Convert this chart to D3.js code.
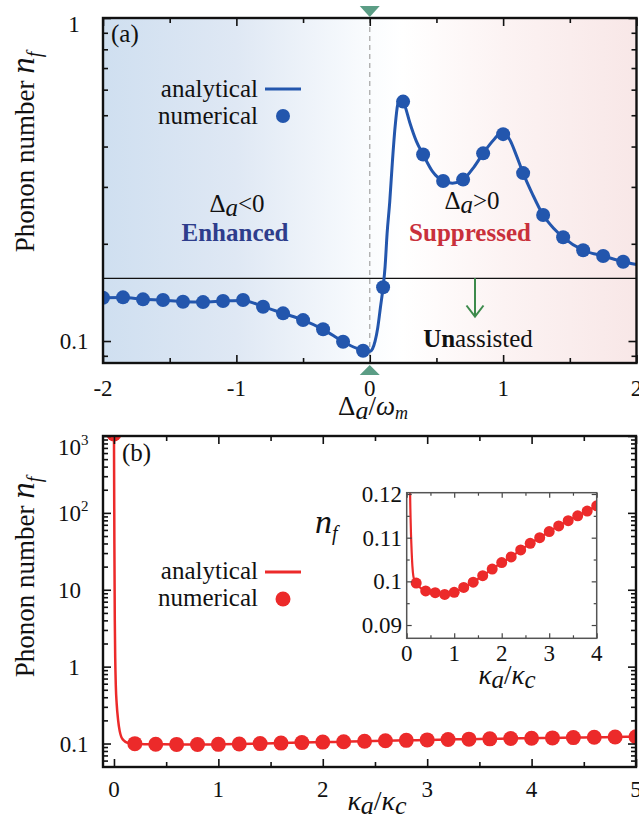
<!DOCTYPE html>
<html><head><meta charset="utf-8">
<script src="https://cdn.jsdelivr.net/npm/d3@7"></script>
<style>#c text, #c tspan { font-family: 'Liberation Serif', 'Times New Roman', Times, serif !important; }</style>
</head><body style="margin:0;background:#fff"><svg id="c" width="639" height="821"></svg>
<script>
// ---------- data, panel (a) ----------
const detuning = [-2,-1.85,-1.7,-1.55,-1.4,-1.25,-1.1,-0.95,-0.8,-0.65,-0.5,-0.35,-0.2,-0.05,0.1,0.25,0.4,0.55,0.7,0.85,1.0,1.15,1.3,1.45,1.6,1.75,1.9];
const nfNumericalA = [0.1362,0.1365,0.1346,0.1339,0.1323,0.1320,0.1330,0.1339,0.1277,0.1218,0.1161,0.1087,0.0995,0.0933,0.1467,0.551,0.378,0.313,0.316,0.381,0.437,0.331,0.2455,0.2095,0.191,0.1834,0.176];
const detuningLine = [-2,-1.85,-1.7,-1.55,-1.4,-1.25,-1.1,-0.95,-0.8,-0.65,-0.5,-0.35,-0.2,-0.1,-0.05,0,0.02,0.04,0.06,0.08,0.1,0.115,0.13,0.15,0.17,0.19,0.21,0.235,0.26,0.3,0.35,0.4,0.47,0.55,0.62,0.7,0.78,0.85,0.93,0.99,1.05,1.1,1.15,1.22,1.3,1.38,1.45,1.6,1.75,1.9,2.0];
const nfAnalyticalA = [0.1362,0.1364,0.1348,0.1338,0.1324,0.1321,0.1330,0.1336,0.1278,0.1218,0.1161,0.1087,0.0996,0.0950,0.0935,0.0928,0.0945,0.1000,0.1100,0.1270,0.1467,0.170,0.215,0.270,0.360,0.460,0.540,0.565,0.540,0.475,0.415,0.378,0.335,0.313,0.308,0.316,0.345,0.381,0.420,0.442,0.420,0.375,0.331,0.285,0.2455,0.223,0.2095,0.191,0.1834,0.176,0.1725];
const unassistedLevel = 0.1563;
const xTicksA = [-2,-1,0,1,2];
const yTicksA = [0.1,1];

// ---------- data, panel (b) ----------
const kappaRatio = [0,0.2,0.4,0.6,0.8,1.0,1.2,1.4,1.6,1.8,2.0,2.2,2.4,2.6,2.8,3.0,3.2,3.4,3.6,3.8,4.0,4.2,4.4,4.6,4.8,5.0];
const nfNumericalB = [1060,0.0996,0.0978,0.0974,0.0970,0.0975,0.0986,0.0998,0.1013,0.1028,0.1043,0.1056,0.1072,0.1087,0.1100,0.1114,0.1127,0.1139,0.1150,0.1161,0.1173,0.1184,0.1195,0.1206,0.1216,0.1227];
const kappaLine = [0,0.004,0.008,0.012,0.018,0.026,0.04,0.055,0.07,0.085,0.1,0.12,0.14,0.17,0.2,0.4,0.6,0.8,1.0,1.2,1.4,1.6,1.8,2.0,2.2,2.4,2.6,2.8,3.0,3.2,3.4,3.6,3.8,4.0,4.2,4.4,4.6,4.8,5.0];
const nfAnalyticalB = [1100,40,4,1.3,0.55,0.33,0.2,0.145,0.122,0.113,0.108,0.1035,0.1012,0.1001,0.0996,0.0978,0.0974,0.0970,0.0975,0.0986,0.0998,0.1013,0.1028,0.1043,0.1056,0.1072,0.1087,0.1100,0.1114,0.1127,0.1139,0.1150,0.1161,0.1173,0.1184,0.1195,0.1206,0.1216,0.1227];
const xTicksB = [0,1,2,3,4,5];
const yTicksB = [0.1,1,10,100,1000];
const yTickLabelsB = [["0.1",""],["1",""],["10",""],["10","2"],["10","3"]];
const insetXTicks = [0,1,2,3,4];
const insetYTicks = [0.09,0.1,0.11,0.12];

// ---------- colours ----------
const BLUE = "#2356ad", RED = "#ec2a2a", GREEN = "#3d8a4c", TEAL = "#5b9d85";

const svg = d3.select("#c");
const defs = svg.append("defs");
const FS = 23;

function T(g) {
  return g.append("text").attr("font-family", "Liberation Serif")
    .style("font-family", "'Liberation Serif', 'Times New Roman', serif").attr("fill", "#111");
}

function ticks(g, scale, orient, values, size, fixedPos, color, sw) {
  const ax = orient === "bottom" ? d3.axisBottom(scale) : orient === "top" ? d3.axisTop(scale) :
             orient === "left" ? d3.axisLeft(scale) : d3.axisRight(scale);
  ax.tickValues(values).tickSize(-size).tickFormat("");
  const t = orient === "bottom" || orient === "top" ? `translate(0,${fixedPos})` : `translate(${fixedPos},0)`;
  const a = g.append("g").attr("transform", t).call(ax);
  a.select(".domain").remove();
  a.selectAll("text").remove();
  a.selectAll("line").attr("stroke", color || "#111").attr("stroke-width", sw || 1.6);
}
function logMinor(domain) {
  const out = [];
  for (let e = -3; e <= 3; e++) for (let m = 2; m <= 9; m++) {
    const v = m * Math.pow(10, e);
    if (v >= domain[0] && v <= domain[1]) out.push(v);
  }
  return out;
}

// ================= PANEL (a) =================
const A = {l: 103, r: 636.5, t: 18, b: 363};
const xA = d3.scaleLinear().domain([-2, 2]).range([A.l, A.r]);
const yA = d3.scaleLog().domain([0.0855, 1]).range([A.b, A.t]);

const grad = defs.append("linearGradient").attr("id", "bgA").attr("gradientUnits", "userSpaceOnUse")
  .attr("x1", A.l).attr("x2", A.r).attr("y1", 0).attr("y2", 0);
[[0, "#cfdff0"], [0.25, "#dfe8f4"], [0.5, "#fafcfe"], [0.56, "#ffffff"], [0.75, "#fcf3f3"], [1, "#f8e7e7"]]
  .forEach(([o, c]) => grad.append("stop").attr("offset", o).attr("stop-color", c));
defs.append("clipPath").attr("id", "clipA").append("rect")
  .attr("x", A.l).attr("y", A.t).attr("width", A.r - A.l).attr("height", A.b - A.t);

const gA = svg.append("g");
gA.append("rect").attr("x", A.l).attr("y", A.t).attr("width", A.r - A.l).attr("height", A.b - A.t).attr("fill", "url(#bgA)");

gA.append("line").attr("x1", xA(0)).attr("x2", xA(0)).attr("y1", A.t).attr("y2", A.b)
  .attr("stroke", "#aaa").attr("stroke-width", 1.3).attr("stroke-dasharray", "5,4");
gA.append("line").attr("x1", A.l).attr("x2", A.r).attr("y1", yA(unassistedLevel)).attr("y2", yA(unassistedLevel))
  .attr("stroke", "#111").attr("stroke-width", 1.2);

const lineA = d3.line().x(d => xA(d[0])).y(d => yA(d[1])).curve(d3.curveMonotoneX);
const plotA = gA.append("g").attr("clip-path", "url(#clipA)");
plotA.append("path").datum(detuningLine.map((x, i) => [x, nfAnalyticalA[i]]))
  .attr("d", lineA).attr("fill", "none").attr("stroke", BLUE).attr("stroke-width", 3);
plotA.selectAll("circle").data(detuning.map((x, i) => [x, nfNumericalA[i]])).join("circle")
  .attr("cx", d => xA(d[0])).attr("cy", d => yA(d[1])).attr("r", 7).attr("fill", BLUE);

ticks(gA, xA, "bottom", xTicksA, 8, A.b);
ticks(gA, xA, "bottom", [-1.5, -0.5, 0.5, 1.5], 5, A.b);
ticks(gA, xA, "top", xTicksA, 8, A.t);
ticks(gA, xA, "top", [-1.5, -0.5, 0.5, 1.5], 5, A.t);
ticks(gA, yA, "left", yTicksA, 8, A.l);
ticks(gA, yA, "left", logMinor(yA.domain()), 5, A.l);
ticks(gA, yA, "right", yTicksA, 8, A.r);
ticks(gA, yA, "right", logMinor(yA.domain()), 5, A.r);
gA.append("rect").attr("x", A.l).attr("y", A.t).attr("width", A.r - A.l).attr("height", A.b - A.t)
  .attr("fill", "none").attr("stroke", "#111").attr("stroke-width", 2.4);

xTicksA.forEach(d => T(gA).attr("x", xA(d)).attr("y", 396).attr("text-anchor", "middle").attr("font-size", FS).text(d));
yTicksA.forEach(d => T(gA).attr("x", 74).attr("y", Math.max(yA(d), 24) + 8).attr("text-anchor", "middle").attr("font-size", FS).text(d));

gA.append("path").attr("d", `M${xA(0) - 10},6 L${xA(0) + 10},6 L${xA(0)},17 Z`).attr("fill", TEAL);
gA.append("path").attr("d", `M${xA(0) - 10},375 L${xA(0) + 10},375 L${xA(0)},365 Z`).attr("fill", TEAL);

T(gA).attr("x", 111).attr("y", 42).attr("font-size", 25).text("(a)");
T(gA).attr("x", 258).attr("y", 97).attr("text-anchor", "end").attr("font-size", 25).text("analytical");
T(gA).attr("x", 258).attr("y", 124).attr("text-anchor", "end").attr("font-size", 25).text("numerical");
gA.append("line").attr("x1", 265).attr("x2", 301).attr("y1", 89).attr("y2", 89).attr("stroke", BLUE).attr("stroke-width", 3);
gA.append("circle").attr("cx", 283).attr("cy", 116).attr("r", 7).attr("fill", BLUE);

function deltaText(g, x, y, sym) {
  const t = T(g).attr("x", x).attr("y", y).attr("text-anchor", "middle").attr("font-size", 25);
  t.append("tspan").text("Δ");
  t.append("tspan").attr("font-style", "italic").attr("dy", 4).text("a");
  t.append("tspan").attr("dy", -4).text(sym + "0");
}
deltaText(gA, 237, 212, "<");
deltaText(gA, 472, 209, ">");
T(gA).attr("x", 235).attr("y", 241).attr("text-anchor", "middle").attr("font-size", 25)
  .attr("font-weight", "bold").attr("fill", "#2e3d8c").text("Enhanced");
T(gA).attr("x", 470).attr("y", 241).attr("text-anchor", "middle").attr("font-size", 25)
  .attr("font-weight", "bold").attr("fill", "#c9303b").text("Suppressed");
gA.append("line").attr("x1", 475).attr("x2", 475).attr("y1", yA(unassistedLevel)).attr("y2", 316)
  .attr("stroke", GREEN).attr("stroke-width", 2);
gA.append("path").attr("d", "M466.5,305.5 L475,316.5 L483.5,305.5").attr("fill", "none")
  .attr("stroke", GREEN).attr("stroke-width", 2);
const un = T(gA).attr("x", 478).attr("y", 347).attr("text-anchor", "middle").attr("font-size", 25);
un.append("tspan").attr("font-weight", "bold").text("Un");
un.append("tspan").text("assisted");

const xtA = T(gA).attr("x", 373).attr("y", 415).attr("text-anchor", "middle").attr("font-size", 27);
xtA.append("tspan").text("Δ");
xtA.append("tspan").attr("font-style", "italic").attr("font-size", 26).attr("dy", 4).text("a");
xtA.append("tspan").attr("dy", -4).text("/");
xtA.append("tspan").attr("font-style", "italic").text("ω");
xtA.append("tspan").attr("font-style", "italic").attr("font-size", 18).attr("dy", 4).text("m");

function yTitle(g, cx, cy) {
  const t = T(g).attr("transform", `translate(${cx},${cy}) rotate(-90)`)
    .attr("text-anchor", "middle").attr("font-size", 27);
  t.append("tspan").text("Phonon number ");
  t.append("tspan").attr("font-style", "italic").attr("font-size", 33).text("n");
  t.append("tspan").attr("font-style", "italic").attr("font-size", 20).attr("dy", 7).text("f");
}
yTitle(gA, 34, 152);

// ================= PANEL (b) =================
const B = {l: 103, r: 636, t: 436, b: 767};
const xB = d3.scaleLinear().domain([-0.105, 5]).range([B.l, B.r]);
const yB = d3.scaleLog().domain([0.0495, 1000]).range([B.b, B.t]);
defs.append("clipPath").attr("id", "clipB").append("rect")
  .attr("x", B.l).attr("y", B.t).attr("width", B.r - B.l).attr("height", B.b - B.t);
const gB = svg.append("g");

const lineB = d3.line().x(d => xB(d[0])).y(d => yB(d[1])).curve(d3.curveMonotoneX);
const plotB = gB.append("g").attr("clip-path", "url(#clipB)");
plotB.append("path").datum(kappaLine.map((x, i) => [x, nfAnalyticalB[i]]))
  .attr("d", lineB).attr("fill", "none").attr("stroke", RED).attr("stroke-width", 2.5);
plotB.selectAll("circle").data(kappaRatio.map((x, i) => [x, nfNumericalB[i]])).join("circle")
  .attr("cx", d => xB(d[0])).attr("cy", d => yB(d[1])).attr("r", 7.5).attr("fill", RED);

ticks(gB, xB, "bottom", xTicksB, 8, B.b);
ticks(gB, xB, "bottom", [0.5, 1.5, 2.5, 3.5, 4.5], 5, B.b);
ticks(gB, xB, "top", xTicksB, 8, B.t);
ticks(gB, xB, "top", [0.5, 1.5, 2.5, 3.5, 4.5], 5, B.t);
ticks(gB, yB, "left", yTicksB, 8, B.l);
ticks(gB, yB, "left", logMinor(yB.domain()), 5, B.l);
ticks(gB, yB, "right", yTicksB, 8, B.r);
ticks(gB, yB, "right", logMinor(yB.domain()), 5, B.r);
gB.append("rect").attr("x", B.l).attr("y", B.t).attr("width", B.r - B.l).attr("height", B.b - B.t)
  .attr("fill", "none").attr("stroke", "#111").attr("stroke-width", 2.4);

xTicksB.forEach(d => T(gB).attr("x", xB(d)).attr("y", 797).attr("text-anchor", "middle").attr("font-size", FS).text(d));
yTicksB.forEach((v, i) => {
  const [base, sup] = yTickLabelsB[i];
  const big = v >= 10;
  const t = T(gB).attr("x", big ? 58 : 74).attr("y", Math.max(yB(v), 447) + 8)
    .attr("text-anchor", big ? "start" : "middle").attr("font-size", FS);
  t.append("tspan").text(base);
  if (sup) t.append("tspan").attr("font-size", 15).attr("dy", -10).text(sup);
});

T(gB).attr("x", 122).attr("y", 461).attr("font-size", 25).text("(b)");
T(gB).attr("x", 258).attr("y", 579).attr("text-anchor", "end").attr("font-size", 25).text("analytical");
T(gB).attr("x", 258).attr("y", 606).attr("text-anchor", "end").attr("font-size", 25).text("numerical");
gB.append("line").attr("x1", 265).attr("x2", 301).attr("y1", 572).attr("y2", 572).attr("stroke", RED).attr("stroke-width", 3);
gB.append("circle").attr("cx", 283).attr("cy", 599).attr("r", 7.5).attr("fill", RED);

function kappaTitle(g, x, y, fs) {
  const t = T(g).attr("x", x).attr("y", y).attr("text-anchor", "middle").attr("font-size", fs);
  t.append("tspan").attr("font-style", "italic").text("κ");
  t.append("tspan").attr("font-style", "italic").attr("font-size", fs - 2).attr("dy", 4).text("a");
  t.append("tspan").attr("dy", -4).text("/");
  t.append("tspan").attr("font-style", "italic").text("κ");
  t.append("tspan").attr("font-style", "italic").attr("font-size", fs - 2).attr("dy", 4).text("c");
}
kappaTitle(gB, 377, 810, 28);
yTitle(gB, 34, 577);

// ---------- inset ----------
const I = {l: 406.7, r: 596.7, t: 492.7, b: 638.3};
const xI = d3.scaleLinear().domain([0, 4]).range([I.l, I.r]);
const yI = d3.scaleLinear().domain([0.08696, 0.1203]).range([I.b, I.t]);
defs.append("clipPath").attr("id", "clipI").append("rect")
  .attr("x", I.l).attr("y", I.t).attr("width", I.r - I.l).attr("height", I.b - I.t);
const gI = svg.append("g");
gI.append("rect").attr("x", I.l).attr("y", I.t).attr("width", I.r - I.l).attr("height", I.b - I.t).attr("fill", "#fff");
const lineI = d3.line().x(d => xI(d[0])).y(d => yI(d[1])).curve(d3.curveMonotoneX);
const plotI = gI.append("g").attr("clip-path", "url(#clipI)");
plotI.append("path").datum(kappaLine.map((x, i) => [x, nfAnalyticalB[i]]).filter(d => d[0] <= 4.2 && d[1] < 0.3))
  .attr("d", lineI).attr("fill", "none").attr("stroke", RED).attr("stroke-width", 2.2);
plotI.selectAll("circle").data(kappaRatio.map((x, i) => [x, nfNumericalB[i]]).filter(d => d[0] > 0 && d[0] <= 4))
  .join("circle").attr("cx", d => xI(d[0])).attr("cy", d => yI(d[1])).attr("r", 5.5).attr("fill", RED);
ticks(gI, xI, "bottom", insetXTicks, 5, I.b, "#444", 1.2);
ticks(gI, xI, "bottom", [0.5, 1.5, 2.5, 3.5], 3, I.b, "#444", 1.2);
ticks(gI, xI, "top", insetXTicks, 5, I.t, "#444", 1.2);
ticks(gI, xI, "top", [0.5, 1.5, 2.5, 3.5], 3, I.t, "#444", 1.2);
ticks(gI, yI, "left", insetYTicks, 5, I.l, "#444", 1.2);
ticks(gI, yI, "left", [0.095, 0.105, 0.115], 3, I.l, "#444", 1.2);
ticks(gI, yI, "right", insetYTicks, 5, I.r, "#444", 1.2);
ticks(gI, yI, "right", [0.095, 0.105, 0.115], 3, I.r, "#444", 1.2);
gI.append("rect").attr("x", I.l).attr("y", I.t).attr("width", I.r - I.l).attr("height", I.b - I.t)
  .attr("fill", "none").attr("stroke", "#555").attr("stroke-width", 1.5);
insetXTicks.forEach(d => T(gI).attr("x", xI(d)).attr("y", 661).attr("text-anchor", "middle").attr("font-size", FS).text(d));
insetYTicks.forEach(d => T(gI).attr("x", 402).attr("y", yI(d) + 8).attr("text-anchor", "end").attr("font-size", FS).text(d));
const nfI = T(gI).attr("x", 315).attr("y", 533).attr("font-size", 34);
nfI.append("tspan").attr("font-style", "italic").text("n");
nfI.append("tspan").attr("font-style", "italic").attr("font-size", 20).attr("dy", 7).text("f");
kappaTitle(gI, 507, 684, 27);
</script></body></html>
